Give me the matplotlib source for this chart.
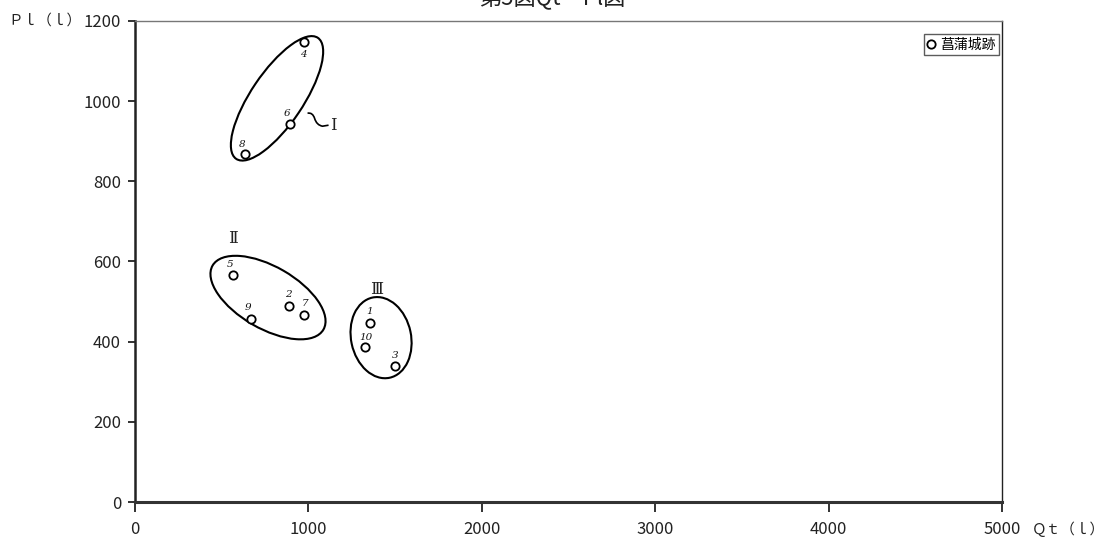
import matplotlib
matplotlib.use("Agg")
import matplotlib.pyplot as plt
from matplotlib import transforms
from matplotlib.patches import Ellipse, PathPatch
from matplotlib.path import Path

plt.rcParams['font.family'] = ['Noto Sans CJK JP', 'DejaVu Sans']

# Qt (l) and Pl (l) for each sample, numbered 1-10
sample_ids = ["1", "2", "3", "4", "5", "6", "7", "8", "9", "10"]
qt_values = [1357, 890, 1501, 973, 563, 894, 975, 634, 669, 1326]
pl_values = [447, 488, 340, 1147, 567, 944, 467, 868, 457, 386]
series_name = "菖蒲城跡"

x_ticks = [0, 1000, 2000, 3000, 4000, 5000]
y_ticks = [0, 200, 400, 600, 800, 1000, 1200]

# offsets (pixels) of the handwritten sample numbers from their points
id_offsets = {"1": (-1, 11), "2": (-1, 12), "3": (0, 10), "4": (0, -12),
              "5": (-3, 10), "6": (-3, 10), "7": (1, 11), "8": (-3, 10),
              "9": (-3, 11), "10": (1, 10)}

# group outlines: centre in data units, width/height/angle in screen pixels
groups = [
    ("Ⅰ", (819, 1007), 146, 52, 56),
    ("Ⅱ", (767, 510), 128, 62, -30),
    ("Ⅲ", (1419, 410), 60, 82, 12),
]
group_labels = {"Ⅰ": (1145, 940), "Ⅱ": (565, 658), "Ⅲ": (1396, 530)}

fig = plt.figure(figsize=(11.12, 5.42), dpi=100)
ax = fig.add_axes([0.1214, 0.0738, 0.7797, 0.8875])
ax.set_xlim(0, 5000)
ax.set_ylim(0, 1200)
ax.set_xticks(x_ticks)
ax.set_yticks(y_ticks)

for side in ("top", "right"):
    ax.spines[side].set_linewidth(1.0)
ax.spines["top"].set_color("#777777")
ax.spines["right"].set_color("#222222")
ax.spines["left"].set_linewidth(1.8)
ax.spines["left"].set_color("#222222")
ax.spines["bottom"].set_linewidth(2.2)
ax.spines["bottom"].set_color("#333333")

ax.tick_params(axis="x", direction="out", length=7, width=1.3, pad=7,
               labelsize=12, colors="#222222")
ax.tick_params(axis="y", direction="out", length=5, width=1.3, pad=5,
               labelsize=12, colors="#222222")

ax.plot(qt_values, pl_values, linestyle="none", marker="o", markersize=6,
        markerfacecolor="white", markeredgecolor="black", markeredgewidth=1.3,
        label=series_name, zorder=3)

for sid, qx, py in zip(sample_ids, qt_values, pl_values):
    dx, dy = id_offsets[sid]
    ax.annotate(sid, (qx, py), xytext=(dx, dy), textcoords="offset pixels",
                ha="center", va="center", fontsize=7.5,
                family=["DejaVu Serif"], style="italic", color="#111111")

for name, (cx, cy), w, h, ang in groups:
    trans = fig.dpi_scale_trans + transforms.ScaledTranslation(cx, cy, ax.transData)
    ell = Ellipse((0, 0), w / 100, h / 100, angle=ang, fill=False,
                  edgecolor="black", linewidth=1.5, transform=trans, zorder=2)
    ax.add_patch(ell)
    lx, ly = group_labels[name]
    ax.text(lx, ly, name, ha="center", va="center", fontsize=12,
            family=["DejaVu Serif", "DejaVu Sans"], color="#222222")

# squiggly leader from outline I to its label
lead_trans = fig.dpi_scale_trans + transforms.ScaledTranslation(1145, 940, ax.transData)
lead = Path([(-0.26, 0.12), (-0.21, 0.13), (-0.19, 0.07), (-0.17, 0.00),
             (-0.11, -0.01), (-0.05, 0.0)],
            [Path.MOVETO, Path.CURVE3, Path.CURVE3, Path.CURVE3, Path.CURVE3,
             Path.LINETO])
ax.add_patch(PathPatch(lead, fill=False, edgecolor="black", linewidth=1.2,
                       transform=lead_trans))

leg = ax.legend(loc="upper right", bbox_to_anchor=(0.9965, 0.972),
                frameon=True, fancybox=False, fontsize=10, handlelength=0.5,
                handletextpad=0.4, borderpad=0.25, borderaxespad=0.0)
leg.get_frame().set_edgecolor("#333333")
leg.get_frame().set_linewidth(1.0)

# axis names placed beside the end ticks
fig.text(8 / 1112, 1 - 21 / 542, "Ｐｌ（ｌ）", ha="left", va="center",
         fontsize=10.5, color="#222222")
fig.text(1032 / 1112, 1 - 529 / 542, "Ｑｔ（ｌ）", ha="left", va="center",
         fontsize=10.5, color="#222222")

fig.text(0.497, 1 - 4 / 542, "第5図Qt－Pl図", ha="center", va="baseline",
         fontsize=16, color="#222222")

fig.savefig("out.png", dpi=100, facecolor="white")
